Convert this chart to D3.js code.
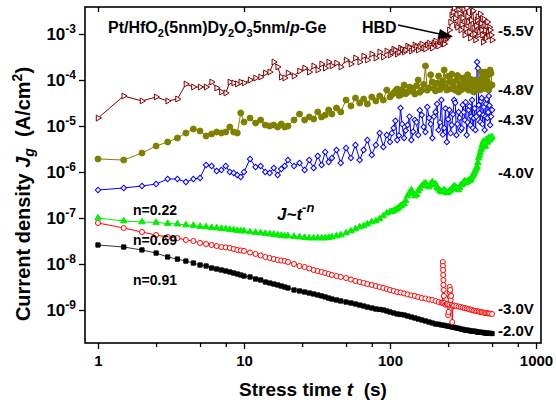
<!DOCTYPE html>
<html>
<head>
<meta charset="utf-8">
<script src="https://cdn.jsdelivr.net/npm/d3@7"></script>
<style>
  html, body { margin: 0; padding: 0; background: #fff; }
  svg { display: block; font-family: "Liberation Sans", Arial, sans-serif; font-weight: bold; }
</style>
</head>
<body>
<svg id="chart" width="556" height="410"></svg>
<script>
// Stress time samples (s)
const times = [1,1.5,2,2.5,3,3.5,4,4.5,5,5.5,6,6.5,7,7.5,8,8.5,9,9.5,
  10,11,12,13,14,15,16,17,18,19,20,22,24,26,28,30,32,34,36,38,40,43,46,
  50,54,58,62,66,70,75,80,85,90,95,100,106,112,118,125,132,140,148,156,
  165,175,185,195,205,215,225,235,245,255,265,275,285,295,305,315,325,335,
  345,355,365,375,385,395,405,415,425,435,445,455,465,475,485,500];

// Extra samples for the noisy late-stage readings (s)
const timesLate = [103,109,115,121,128,136,144,152,160,170,180,190,200,210,220,230,240,250,
  260,270,280,290,300,310,320,330,340,350,360,370,380,390,400,410,420,430,440,450,460,470,480,492];

// Gate current density Jg (A/cm^2)
const jm20 = [2.59e-8,2.34e-8,2.02e-8,1.73e-8,1.42e-8,1.28e-8,1.16e-8,1.05e-8,9.51e-9,9.05e-9,8.19e-9,7.79e-9,7.40e-9,7.04e-9,6.70e-9,6.37e-9,6.06e-9,5.77e-9,
  5.48e-9,5.22e-9,4.72e-9,4.49e-9,4.06e-9,3.86e-9,3.67e-9,3.50e-9,3.32e-9,3.16e-9,3.01e-9,
  2.72e-9,2.59e-9,2.46e-9,2.34e-9,2.23e-9,2.12e-9,2.02e-9,1.92e-9,1.82e-9,1.73e-9,
  1.65e-9,1.57e-9,1.49e-9,1.42e-9,1.35e-9,1.28e-9,1.22e-9,
  1.16e-9,1.105e-9,1.05e-9,1.03e-9,1.0e-9,9.51e-10,9.05e-10,8.61e-10,8.19e-10,8.0e-10,7.79e-10,7.40e-10,7.04e-10,6.70e-10,6.37e-10,
  6.06e-10,5.77e-10,5.48e-10,5.22e-10,4.96e-10,4.90e-10,4.72e-10,4.65e-10,4.49e-10,4.42e-10,4.27e-10,4.20e-10,4.06e-10,4.0e-10,3.86e-10,3.80e-10,3.67e-10,3.65e-10,3.62e-10,3.50e-10,3.48e-10,3.46e-10,3.44e-10,3.32e-10,3.30e-10,3.28e-10,3.26e-10,3.24e-10,3.16e-10,3.15e-10,3.14e-10,3.12e-10,3.10e-10,
  3.08e-10];

const jm30 = [7.79e-8,6.06e-8,4.96e-8,4.27e-8,3.86e-8,3.67e-8,3.32e-8,3.16e-8,2.86e-8,2.72e-8,2.59e-8,2.46e-8,2.34e-8,2.29e-8,2.23e-8,2.12e-8,2.02e-8,1.97e-8,
  1.92e-8,1.78e-8,1.65e-8,1.53e-8,1.42e-8,1.35e-8,1.28e-8,1.22e-8,1.19e-8,1.16e-8,1.105e-8,
  1.0e-8,9.05e-9,8.61e-9,7.99e-9,7.40e-9,7.04e-9,6.70e-9,6.37e-9,6.06e-9,5.77e-9,
  5.48e-9,5.22e-9,4.96e-9,4.60e-9,4.27e-9,4.06e-9,3.86e-9,
  3.67e-9,3.50e-9,3.32e-9,3.16e-9,3.01e-9,2.86e-9,2.72e-9,2.59e-9,2.46e-9,2.40e-9,2.29e-9,2.18e-9,2.07e-9,2.02e-9,1.92e-9,
  1.82e-9,1.78e-9,1.69e-9,1.65e-9,1.57e-9,1.49e-9,1.45e-9,1.42e-9,1.35e-9,1.31e-9,1.28e-9,1.25e-9,1.22e-9,1.19e-9,1.16e-9,1.13e-9,1.105e-9,1.08e-9,1.05e-9,1.02e-9,1.0e-9,9.75e-10,9.51e-10,9.40e-10,9.28e-10,9.05e-10,9.0e-10,8.83e-10,8.61e-10,8.55e-10,8.50e-10,8.40e-10,8.35e-10,
  8.19e-10];

// Burst of -3.0V readings between 229 s and 270 s ([t, Jg])
const jm30Burst = [[229,1.42e-9],[230,1.105e-8],[230.5,9.05e-9],[231,7.40e-9],[231.5,5.77e-9],[232,4.49e-9],[232.5,3.50e-9],[233,2.72e-9],[234,2.02e-9],
  [240,1.30e-9],[248,1.35e-9],[250,7.79e-10],[252,9.05e-10],[256,3.16e-9],[256.5,2.46e-9],[257,1.92e-9],[258,2.72e-9],[260,1.65e-9],[262,2.02e-9],[267,5.48e-10],[270,1.22e-9]];

const jm40 = [1.0e-7,8.61e-8,8.19e-8,7.99e-8,7.59e-8,7.40e-8,7.04e-8,6.87e-8,6.54e-8,6.37e-8,6.21e-8,6.06e-8,5.91e-8,5.77e-8,5.62e-8,5.48e-8,5.35e-8,5.22e-8,
  5.22e-8,4.96e-8,4.84e-8,4.72e-8,4.60e-8,4.49e-8,4.38e-8,4.27e-8,4.16e-8,4.06e-8,4.06e-8,
  3.96e-8,3.86e-8,3.76e-8,3.67e-8,3.67e-8,3.67e-8,3.67e-8,3.67e-8,3.76e-8,3.86e-8,
  4.06e-8,4.27e-8,4.72e-8,5.22e-8,5.77e-8,6.37e-8,6.70e-8,
  7.40e-8,8.19e-8,8.61e-8,9.51e-8,1.105e-7,1.28e-7,1.35e-7,1.42e-7,1.57e-7,1.82e-7,2.02e-7,3.01e-7,4.06e-7,3.01e-7,3.86e-7,
  4.96e-7,5.77e-7,4.72e-7,6.06e-7,5.48e-7,4.27e-7,3.67e-7,4.06e-7,3.50e-7,3.86e-7,4.27e-7,4.96e-7,4.49e-7,4.06e-7,5.22e-7,5.48e-7,6.37e-7,6.0e-7,6.4e-7,6.7e-7,8.0e-7,9.0e-7,1.1e-6,1.3e-6,2.0e-6,2.6e-6,3.4e-6,4.6e-6,3.9e-6,5.0e-6,4.4e-6,5.6e-6,5.2e-6,
  5.8e-6];
const jm40Late = [1.38e-7,1.5e-7,1.7e-7,1.9e-7,2.4e-7,3.6e-7,3.4e-7,3.2e-7,4.4e-7,5.4e-7,5.0e-7,5.6e-7,5.2e-7,4.6e-7,3.9e-7,3.8e-7,3.8e-7,3.6e-7,
  4.0e-7,4.6e-7,4.7e-7,4.3e-7,4.6e-7,5.3e-7,6.0e-7,5.8e-7,6.2e-7,6.5e-7,7.2e-7,8.5e-7,1.0e-6,1.2e-6,1.6e-6,2.3e-6,3.0e-6,4.0e-6,4.3e-6,3.6e-6,4.8e-6,5.3e-6,4.9e-6,5.5e-6];

const jm43 = [4.06e-7,4.49e-7,4.96e-7,5.48e-7,7.04e-7,7.04e-7,6.06e-7,7.04e-7,7.40e-7,1.42e-6,1.35e-6,1.05e-6,1.105e-6,1.35e-6,1.0e-6,9.51e-7,8.61e-7,7.79e-7,
  1.0e-6,1.92e-6,1.28e-6,1.35e-6,1.0e-6,9.51e-7,1.22e-6,8.61e-7,1.16e-6,1.35e-6,1.82e-6,
  1.35e-6,1.57e-6,1.105e-6,1.82e-6,1.22e-6,2.23e-6,1.42e-6,2.72e-6,1.65e-6,2.02e-6,
  3.01e-6,1.57e-6,3.32e-6,2.02e-6,3.86e-6,1.82e-6,3.01e-6,
  4.96e-6,2.34e-6,3.86e-6,7.04e-6,3.50e-6,6.37e-6,4.49e-6,9.05e-6,4.96e-6,2.46e-5,5.48e-6,1.05e-5,4.96e-6,1.35e-5,6.37e-6,
  1.73e-5,7.40e-6,1.49e-5,5.48e-6,2.02e-5,8.19e-6,3.67e-5,9.05e-6,4.49e-6,2.23e-5,1.05e-5,3.67e-5,6.37e-6,2.02e-5,8.19e-6,2.86e-5,1.35e-5,6.37e-6,2.23e-5,1.05e-5,3.67e-5,1.49e-5,8.19e-6,2.46e-4,2.86e-5,1.22e-5,4.06e-5,1.73e-5,8.19e-6,3.01e-5,1.49e-5,4.49e-5,1.05e-5,
  2.23e-5];
const jm43Late = [7.0e-6,1.3e-5,6.2e-6,1.1e-5,8.0e-6,1.6e-5,7.5e-6,1.2e-5,2.2e-5,9.5e-6,2.6e-5,1.1e-5,1.6e-5,3.0e-5,1.2e-5,6.5e-6,2.4e-5,1.4e-5,
  7.0e-6,1.8e-5,3.2e-5,1.1e-5,1.5e-5,9.0e-6,2.0e-5,3.3e-5,1.2e-5,2.7e-5,1.6e-5,9.0e-6,2.4e-5,1.6e-5,1.8e-4,1.9e-5,3.5e-5,1.1e-5,2.6e-5,1.6e-5,3.8e-5,2.0e-5,2.8e-5,1.6e-5];

const jm48 = [1.92e-6,1.82e-6,2.59e-6,3.67e-6,4.49e-6,5.48e-6,7.04e-6,8.61e-6,7.79e-6,6.06e-6,6.70e-6,7.40e-6,7.04e-6,7.40e-6,9.51e-6,7.40e-6,7.04e-6,1.92e-5,
  1.22e-5,1.49e-5,1.16e-5,1.35e-5,1.05e-5,1.0e-5,1.05e-5,9.51e-6,1.105e-5,9.51e-6,1.0e-5,
  1.35e-5,1.82e-5,1.35e-5,1.57e-5,1.42e-5,2.02e-5,1.57e-5,1.73e-5,2.23e-5,1.82e-5,
  2.46e-5,2.02e-5,3.67e-5,2.72e-5,4.06e-5,3.16e-5,3.86e-5,
  3.01e-5,4.27e-5,3.50e-5,4.49e-5,3.67e-5,6.06e-5,4.27e-5,5.22e-5,6.37e-5,4.72e-5,7.79e-5,5.48e-5,6.70e-5,4.96e-5,1.0e-4,
  6.06e-5,2.02e-4,6.70e-5,9.05e-5,5.77e-5,1.22e-4,7.40e-5,1.65e-4,6.06e-5,9.05e-5,1.35e-4,6.70e-5,1.0e-4,5.48e-5,8.19e-5,1.105e-4,6.70e-5,9.05e-5,6.06e-5,1.05e-4,7.40e-5,5.48e-5,1.0e-4,6.70e-5,8.61e-5,6.06e-5,1.105e-4,7.40e-5,1.49e-4,6.70e-5,9.05e-5,6.06e-5,1.65e-4,
  7.79e-5];
const jm48Late = [4.8e-5,5.8e-5,4.6e-5,6.2e-5,5.0e-5,7.0e-5,5.6e-5,7.5e-5,5.4e-5,8.0e-5,6.0e-5,1.3e-4,6.5e-5,8.5e-5,6.2e-5,9.5e-5,7.0e-5,1.2e-4,
  6.4e-5,8.8e-5,6.0e-5,1.25e-4,7.2e-5,6.2e-5,9.0e-5,6.8e-5,1.3e-4,7.0e-5,6.0e-5,9.5e-5,6.6e-5,7.8e-5,6.2e-5,9.0e-5,1.5e-4,7.0e-5,1.1e-4,6.5e-5,8.2e-5,1.3e-4,7.0e-5,1.4e-4];

const jm55 = [1.49e-5,4.49e-5,3.50e-5,4.27e-5,3.50e-5,3.86e-5,8.19e-5,7.04e-5,7.04e-5,7.04e-5,9.05e-5,6.70e-5,5.48e-5,5.22e-5,9.05e-5,8.61e-5,8.19e-5,9.05e-5,
  8.61e-5,1.0e-4,1.105e-4,1.16e-4,1.42e-4,1.49e-4,2.46e-4,1.92e-4,1.16e-4,1.105e-4,1.42e-4,
  1.22e-4,1.57e-4,1.82e-4,1.49e-4,2.02e-4,1.65e-4,2.23e-4,1.82e-4,2.46e-4,2.02e-4,
  2.34e-4,1.92e-4,2.72e-4,2.23e-4,3.01e-4,2.46e-4,3.32e-4,
  2.72e-4,3.67e-4,3.01e-4,4.06e-4,3.16e-4,4.27e-4,3.50e-4,4.72e-4,3.67e-4,4.96e-4,4.06e-4,5.48e-4,4.27e-4,5.77e-4,4.49e-4,
  6.06e-4,4.72e-4,6.37e-4,4.96e-4,7.04e-4,5.48e-4,7.40e-4,6.06e-4,8.19e-4,1.22e-3,2.59e-3,3.67e-3,1.57e-3,3.32e-3,1.22e-3,2.23e-3,9.51e-4,3.67e-3,1.82e-3,8.19e-4,3.01e-3,1.35e-3,7.40e-4,2.02e-3,9.51e-4,2.72e-3,1.22e-3,6.70e-4,1.57e-3,8.19e-4,1.82e-3,9.05e-4,1.22e-3,
  7.40e-4];
const jm55Late = [4.0e-4,4.4e-4,4.1e-4,4.6e-4,4.5e-4,5.0e-4,4.8e-4,5.2e-4,5.4e-4,5.0e-4,5.8e-4,5.6e-4,6.4e-4,6.0e-4,6.8e-4,6.6e-4,7.5e-4,9.0e-4,
  1.8e-3,3.0e-3,2.2e-3,1.4e-3,2.8e-3,1.6e-3,3.4e-3,1.3e-3,2.4e-3,1.1e-3,2.0e-3,3.2e-3,1.0e-3,1.5e-3,2.4e-3,1.1e-3,1.7e-3,9.5e-4,2.1e-3,1.2e-3,1.5e-3,1.1e-3,1.4e-3,9.5e-4];

const biasLabels = ["-5.5V", "-4.8V", "-4.3V", "-4.0V", "-3.0V", "-2.0V"];
const slopeLabels = ["n=0.22", "n=0.69", "n=0.91"];
const xTicks = [1, 10, 100, 1000];
const xMinorTicks = [2.5, 5, 7.5, 25, 50, 75, 250, 500, 750];
const yTickExponents = [-3, -4, -5, -6, -7, -8, -9];

const svg = d3.select("#chart");

// Plot frame and log scales
const frame = { left: 85, right: 541, top: 7, bottom: 343 };
const x = d3.scaleLog().domain([1, 1000]).range([98, 536]);
const y = d3.scaleLog().domain([1e-9, 1e-3]).range([310, 34]);

svg.append("defs").append("clipPath").attr("id", "plotClip")
  .append("rect")
  .attr("x", frame.left).attr("y", frame.top)
  .attr("width", frame.right - frame.left).attr("height", frame.bottom - frame.top);

const axisStyle = g => {
  g.select(".domain").remove();
  g.selectAll("line").attr("stroke", "#000").attr("stroke-width", 1.3);
};

svg.append("g").attr("transform", `translate(0,${frame.bottom})`)
  .call(d3.axisBottom(x).tickValues(xTicks).tickSize(6).tickPadding(6).tickFormat(d3.format("d")))
  .call(axisStyle)
  .call(g => g.selectAll("text").attr("font-size", 15).attr("font-weight", "bold")
    .attr("font-family", '"Liberation Sans", Arial, sans-serif').attr("fill", "#000"));

svg.append("g").attr("transform", `translate(0,${frame.bottom})`)
  .call(d3.axisBottom(x).tickValues(xMinorTicks).tickSize(4).tickFormat(""))
  .call(axisStyle);

svg.append("g").attr("transform", `translate(0,${frame.top})`)
  .call(d3.axisBottom(x).tickValues(xTicks).tickSize(5).tickFormat(""))
  .call(axisStyle);

svg.append("g").attr("transform", `translate(${frame.left},0)`)
  .call(d3.axisLeft(y).tickValues(yTickExponents.map(e => Math.pow(10, e))).tickSize(6).tickFormat(""))
  .call(axisStyle);

// Power-of-ten tick labels
const yLab = svg.append("g").selectAll("text").data(yTickExponents).join("text")
  .attr("x", 76).attr("y", d => y(Math.pow(10, d)) + 6)
  .attr("text-anchor", "end").attr("font-size", 17).attr("fill", "#000");
yLab.append("tspan").text("10");
yLab.append("tspan").attr("dy", -7).attr("font-size", 12).text(d => String(d));

svg.append("rect")
  .attr("x", frame.left).attr("y", frame.top)
  .attr("width", frame.right - frame.left).attr("height", frame.bottom - frame.top)
  .attr("fill", "none").attr("stroke", "#000").attr("stroke-width", 1.6);

// Series
const sym = (type, size) => d3.symbol().type(type).size(size)();
const zip = (ts, vs) => ts.map((t, i) => [t, vs[i]]);
const merged = (...parts) => [].concat(...parts).sort((a, b) => a[0] - b[0]);

const series = [
  { pts: zip(times, jm20), color: "#000000", path: sym(d3.symbolSquare, 18), fill: "#000000", rot: 0, lw: 0.8 },
  { pts: merged(zip(times, jm30), jm30Burst), color: "#ff0000", path: sym(d3.symbolCircle, 20), fill: "#ffffff", rot: 0, lw: 1 },
  { pts: merged(zip(times, jm40), zip(timesLate, jm40Late)), color: "#00ee00", path: sym(d3.symbolTriangle, 18), fill: "#00ee00", rot: 0, lw: 1 },
  { pts: merged(zip(times, jm43), zip(timesLate, jm43Late)), color: "#0000ff", path: sym(d3.symbolSquare, 15), fill: "#ffffff", rot: 45, lw: 1 },
  { pts: merged(zip(times, jm48), zip(timesLate, jm48Late)), color: "#808000", path: sym(d3.symbolCircle, 28), fill: "#808000", rot: 0, lw: 1 },
  { pts: merged(zip(times, jm55), zip(timesLate, jm55Late)), color: "#800000", path: sym(d3.symbolTriangle, 15), fill: "#ffffff", rot: 90, lw: 1 }
];

const plot = svg.append("g").attr("clip-path", "url(#plotClip)");
const line = d3.line().x(d => x(d[0])).y(d => y(d[1]));

series.forEach(s => {
  const g = plot.append("g");
  g.append("path").datum(s.pts).attr("d", line)
    .attr("fill", "none").attr("stroke", s.color).attr("stroke-width", s.lw);
  g.selectAll("path.m").data(s.pts).join("path").attr("class", "m")
    .attr("d", s.path)
    .attr("transform", d => `translate(${x(d[0])},${y(d[1])}) rotate(${s.rot})`)
    .attr("fill", s.fill).attr("stroke", s.color).attr("stroke-width", 1);
});

// Bias labels beside the curve ends
const biasLevels = [1.2e-3, 6.2e-5, 1.4e-5, 1.0e-6, 1.1e-9, 3.5e-10];
svg.append("g").selectAll("text").data(biasLabels).join("text")
  .attr("x", 498).attr("y", (d, i) => y(biasLevels[i]) + 5.5)
  .attr("font-size", 15).attr("fill", "#000").text(d => d);

// Power-law exponents
const slopeLevels = [1.5e-7, 3.3e-8, 4.5e-9];
svg.append("g").selectAll("text").data(slopeLabels).join("text")
  .attr("x", 133).attr("y", (d, i) => y(slopeLevels[i]) + 5)
  .attr("font-size", 14).attr("fill", "#000").text(d => d);

const law = svg.append("text").attr("x", 277).attr("y", 220)
  .attr("font-size", 17).attr("font-style", "italic").attr("fill", "#000");
law.append("tspan").text("J~t");
law.append("tspan").attr("dy", -8).attr("font-size", 13).text("-n");

// Gate stack
const title = svg.append("text").attr("x", 108).attr("y", 33)
  .attr("font-size", 16).attr("fill", "#000");
title.append("tspan").text("Pt/HfO");
title.append("tspan").attr("dy", 4).attr("font-size", 11).text("2");
title.append("tspan").attr("dy", -4).text("(5nm)Dy");
title.append("tspan").attr("dy", 4).attr("font-size", 11).text("2");
title.append("tspan").attr("dy", -4).text("O");
title.append("tspan").attr("dy", 4).attr("font-size", 11).text("3");
title.append("tspan").attr("dy", -4).text("5nm/");
title.append("tspan").attr("font-style", "italic").text("p");
title.append("tspan").text("-Ge");

// Hard breakdown marker
svg.append("text").attr("x", 362).attr("y", 33).attr("font-size", 16).attr("fill", "#000").text("HBD");
svg.append("line").attr("x1", 398).attr("y1", 25).attr("x2", 442).attr("y2", 34.5)
  .attr("stroke", "#000").attr("stroke-width", 1.3);
svg.append("path").attr("d", "M453,37 L440,29 L437.5,39 Z").attr("fill", "#000");

// Axis titles
const yt = svg.append("text").attr("transform", "translate(30,194) rotate(-90)")
  .attr("text-anchor", "middle").attr("font-size", 20).attr("fill", "#000");
yt.append("tspan").text("Current density ");
yt.append("tspan").attr("font-style", "italic").text("J");
yt.append("tspan").attr("dy", 4).attr("font-size", 14).attr("font-style", "italic").text("g");
yt.append("tspan").attr("dy", -4).text("\u00a0\u00a0(A/cm");
yt.append("tspan").attr("dy", -8).attr("font-size", 14).text("2");
yt.append("tspan").attr("dy", 8).text(")");

const xt = svg.append("text").attr("x", 313).attr("y", 396)
  .attr("text-anchor", "middle").attr("font-size", 19).attr("fill", "#000");
xt.append("tspan").text("Stress time ");
xt.append("tspan").attr("font-style", "italic").text("t");
xt.append("tspan").text("\u00a0\u00a0(s)");
</script>
</body>
</html>
